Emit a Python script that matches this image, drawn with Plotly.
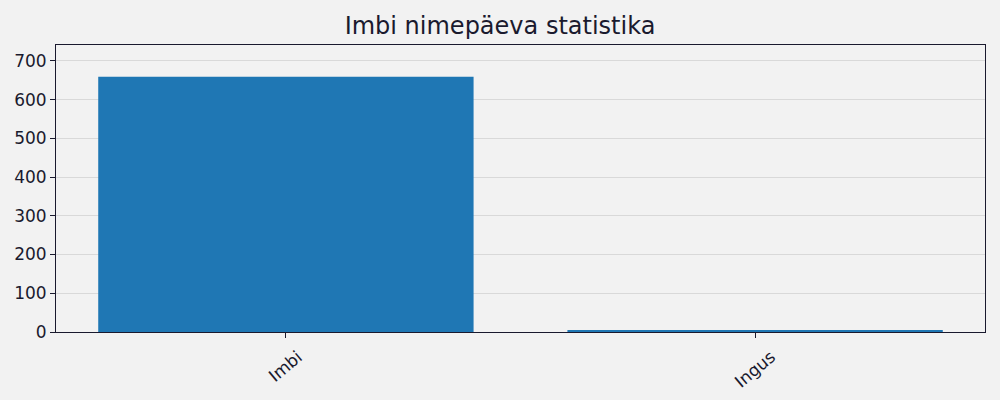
import plotly.graph_objects as go

names = ["Imbi", "Ingus"]
counts = [659, 3]

bg = "#f2f2f2"
ink = "#1a1a2e"

fig = go.Figure(go.Bar(x=[0, 1], y=counts, width=0.8,
                       marker=dict(color="#1f77b4", line=dict(width=0))))

# matplotlib-style centred rotated tick labels
for i, name in enumerate(names):
    fig.add_annotation(x=i, y=0, xref="x", yref="paper", text=name,
                       textangle=-40, showarrow=False, xanchor="center",
                       yanchor="top", yshift=-12,
                       font=dict(family="DejaVu Sans", size=17, color=ink))

fig.update_layout(
    width=1000, height=400,
    paper_bgcolor=bg, plot_bgcolor=bg,
    margin=dict(l=56, r=15, t=45, b=68),
    title=dict(text="Imbi nimepäeva statistika", x=0.5, xanchor="center",
               y=0.935, yanchor="middle",
               font=dict(family="DejaVu Sans", size=24, color=ink)),
    font=dict(family="DejaVu Sans", size=17, color=ink),
    showlegend=False,
    bargap=0.2,
)
fig.update_xaxes(range=[-0.49, 1.49], tickvals=[0, 1], showticklabels=False,
                 ticks="outside", ticklen=5, tickcolor=ink,
                 showgrid=False, showline=True, linecolor=ink, linewidth=1,
                 mirror=True, zeroline=False)
fig.update_yaxes(range=[0, 741], dtick=100, ticks="outside", ticklen=5,
                 tickcolor=ink, showgrid=True, gridcolor="#d9d9d9", gridwidth=1,
                 showline=True, linecolor=ink, linewidth=1, mirror=True,
                 zeroline=False)

fig.write_html("out.html", config={"displayModeBar": False},
               post_script="document.body.style.margin='0';")
